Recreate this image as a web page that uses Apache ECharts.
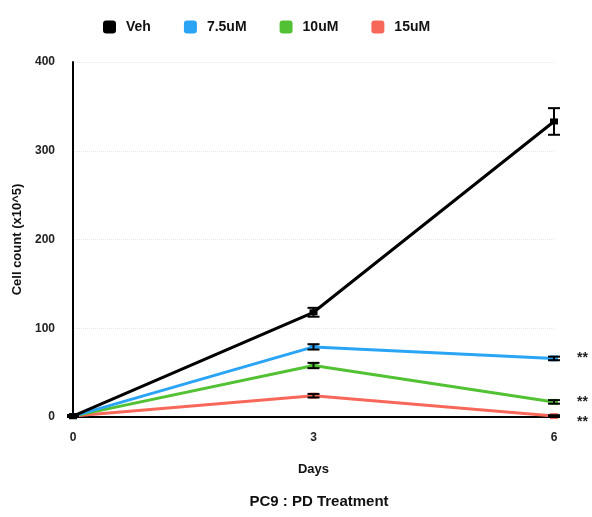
<!DOCTYPE html>
<html>
<head>
<meta charset="utf-8">
<script src="https://cdn.jsdelivr.net/npm/echarts@6/dist/echarts.min.js"></script>
<style>
  html, body { margin: 0; padding: 0; background: #fff; }
  #chart_one { width: 592px; height: 517px; }
</style>
</head>
<body>
<div id="chart_one"></div>
<script>
var days = [0, 3, 6];
var seriesNames = ['Veh', '7.5uM', '10uM', '15uM'];
var colors = ['#000000', '#2aa4f4', '#52c234', '#f8685a'];
var vehMean = [1, 118, 333];
var vehErr = [1, 5, 15];
var uM75Mean = [1, 79, 66];
var uM75Err = [1, 3, 2];
var uM10Mean = [1, 58, 17];
var uM10Err = [1, 3, 2];
var uM15Mean = [1, 24, 1];
var uM15Err = [1, 2, 1];
var sigLabels = ['', '**', '**', '**'];
var yTicks = [0, 100, 200, 300, 400];

var means = [vehMean, uM75Mean, uM10Mean, uM15Mean];
var errs = [vehErr, uM75Err, uM10Err, uM15Err];
// nudge the lowest asterisks down so they don't sit on top of each other
var sigOffsets = [[0, 0], [0, 0], [0, 0], [0, 6]];

var theDom = document.getElementById('chart_one');
var myChart = echarts.init(theDom);

function errorBar(color) {
  return function (params, api) {
    var x = api.value(0);
    var lo = api.coord([x, api.value(1)]);
    var hi = api.coord([x, api.value(2)]);
    var w = 6;
    var st = { stroke: color, lineWidth: 2 };
    return {
      type: 'group',
      children: [
        { type: 'line', shape: { x1: lo[0], y1: lo[1], x2: hi[0], y2: hi[1] }, style: st },
        { type: 'line', shape: { x1: lo[0] - w, y1: lo[1], x2: lo[0] + w, y2: lo[1] }, style: st },
        { type: 'line', shape: { x1: hi[0] - w, y1: hi[1], x2: hi[0] + w, y2: hi[1] }, style: st }
      ]
    };
  };
}

var series = [];
seriesNames.forEach(function (name, i) {
  var m = means[i];
  series.push({
    name: name,
    type: 'line',
    z: 10 - i,
    data: days.map(function (d, k) {
      var item = { value: [d, m[k]] };
      if (k === days.length - 1 && sigLabels[i]) {
        item.label = {
          show: true,
          position: 'right',
          distance: 19,
          offset: sigOffsets[i],
          formatter: sigLabels[i],
          color: '#222',
          fontSize: 14,
          fontWeight: 'bold'
        };
      }
      return item;
    }),
    symbol: 'rect',
    symbolSize: [8, 6],
    itemStyle: { color: colors[i] },
    lineStyle: { color: colors[i], width: 3 },
    animation: false
  });
  series.push({
    name: name,
    type: 'custom',
    z: 11 - i,
    renderItem: errorBar('#000'),
    data: days.map(function (d, k) {
      return [d, m[k] - errs[i][k], m[k] + errs[i][k]];
    }),
    encode: { x: 0, y: [1, 2] },
    animation: false
  });
});

var option = {
  textStyle: { fontFamily: 'Liberation Sans, Arial, sans-serif' },
  legend: {
    top: 15,
    left: 98,
    itemGap: 33,
    itemWidth: 13,
    itemHeight: 13,
    data: seriesNames.map(function (n, i) {
      return { name: n, icon: 'roundRect', itemStyle: { color: colors[i] } };
    }),
    textStyle: { fontSize: 14, fontWeight: 'bold', color: '#111', padding: [0, 0, 0, 5] }
  },
  title: {
    text: 'PC9 : PD Treatment',
    left: 314,
    textAlign: 'center',
    top: 489,
    textStyle: { fontSize: 15, fontWeight: 'bold', color: '#111' }
  },
  grid: { left: 73, right: 38, top: 62, bottom: 100 },
  xAxis: {
    type: 'value',
    min: 0,
    max: 6,
    interval: 3,
    name: 'Days',
    nameLocation: 'middle',
    nameGap: 46,
    nameTextStyle: { fontSize: 13, fontWeight: 'bold', color: '#111' },
    axisLine: { lineStyle: { color: '#000', width: 2 } },
    axisTick: { show: false },
    splitLine: { show: false },
    axisLabel: { fontSize: 12, fontWeight: 'bold', color: '#222', margin: 15 }
  },
  yAxis: {
    type: 'value',
    min: yTicks[0],
    max: yTicks[yTicks.length - 1],
    interval: 100,
    name: 'Cell count (x10^5)',
    nameLocation: 'middle',
    nameGap: 48,
    nameTextStyle: { fontSize: 13, fontWeight: 'bold', color: '#111' },
    axisLine: { show: true, lineStyle: { color: '#000', width: 2 } },
    axisTick: { show: false },
    splitLine: { show: true, lineStyle: { color: '#e6e6e6', type: 'dotted', width: 1 } },
    axisLabel: { fontSize: 12, fontWeight: 'bold', color: '#222', margin: 18 }
  },
  series: series
};

myChart.setOption(option);
window.onresize = function () {
  myChart.resize();
};
</script>
</body>
</html>
